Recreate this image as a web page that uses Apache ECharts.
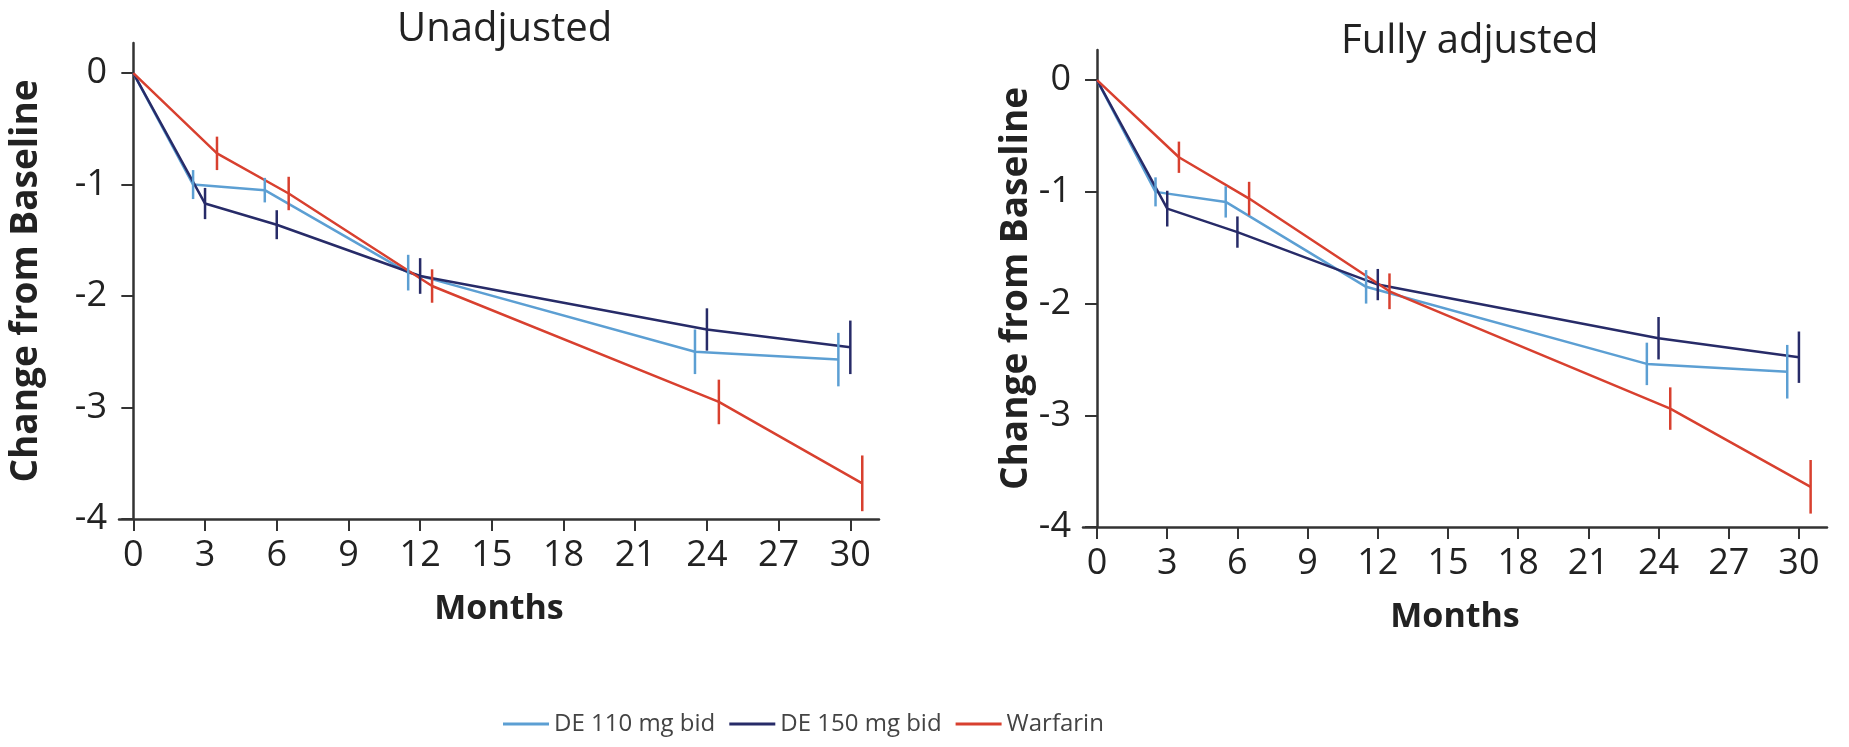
<!DOCTYPE html>
<html>
<head>
<meta charset="utf-8">
<script src="https://cdn.jsdelivr.net/npm/echarts@6/dist/echarts.min.js"></script>
<style>
  html, body { margin: 0; padding: 0; background: #fff; }
  #chart { width: 1849px; height: 747px; }
</style>
</head>
<body>
<div id="chart"></div>
<script>
// months are dodged a little per group, as in the original figure
const months110 = [0, 2.5, 5.5, 11.5, 23.5, 29.5]
const months150 = [0, 3, 6, 12, 24, 30]
const monthsWarf = [0, 3.5, 6.5, 12.5, 24.5, 30.5]
const monthTicks = [0, 3, 6, 9, 12, 15, 18, 21, 24, 27, 30]
const changeTicks = [-4, -3, -2, -1, 0]

// Unadjusted
const unadj110 = [0, -1.0, -1.05, -1.79, -2.50, -2.57]
const unadj110Err = [0, 0.13, 0.11, 0.16, 0.20, 0.24]
const unadj150 = [0, -1.17, -1.36, -1.82, -2.30, -2.46]
const unadj150Err = [0, 0.14, 0.13, 0.16, 0.19, 0.24]
const unadjWarf = [0, -0.72, -1.08, -1.91, -2.95, -3.68]
const unadjWarfErr = [0, 0.15, 0.15, 0.15, 0.20, 0.25]

// Fully adjusted
const adj110 = [0, -1.0, -1.09, -1.85, -2.54, -2.61]
const adj110Err = [0, 0.13, 0.14, 0.15, 0.19, 0.24]
const adj150 = [0, -1.15, -1.36, -1.83, -2.31, -2.48]
const adj150Err = [0, 0.16, 0.14, 0.14, 0.19, 0.23]
const adjWarf = [0, -0.69, -1.06, -1.89, -2.94, -3.64]
const adjWarfErr = [0, 0.14, 0.15, 0.16, 0.19, 0.24]

const names = ['DE 110 mg bid', 'DE 150 mg bid', 'Warfarin']
const colors = ['#5c9fd3', '#272b68', '#d8402f']

const FONT = 'Open Sans'
const NARROW = "'Liberation Sans Narrow', 'Open Sans'"
const axisColor = '#333'

function pairs(xs, ys) {
  return xs.map((x, i) => [x, ys[i]])
}

function bars(xs, ys, errs) {
  return xs
    .map((x, i) => [x, ys[i] - errs[i], ys[i] + errs[i]])
    .filter((d, i) => errs[i] > 0)
}

function renderBar(params, api) {
  const hi = api.coord([api.value(0), api.value(2)])
  const lo = api.coord([api.value(0), api.value(1)])
  return {
    type: 'line',
    shape: { x1: hi[0], y1: hi[1], x2: lo[0], y2: lo[1] },
    style: { stroke: api.visual('color'), lineWidth: 2.5 }
  }
}

function makeXAxis(gridIndex) {
  return {
    gridIndex,
    type: 'value',
    min: -0.6,
    max: 31.2,
    name: 'Months',
    nameLocation: 'middle',
    nameGap: 73,
    nameTextStyle: { fontFamily: FONT, fontSize: 34, fontWeight: 'bold', color: '#222' },
    axisLine: { onZero: false, lineStyle: { color: axisColor, width: 2.5 } },
    axisTick: { customValues: monthTicks, length: 12, lineStyle: { color: axisColor, width: 2 } },
    axisLabel: { customValues: monthTicks, margin: 19, fontFamily: NARROW, fontSize: 36, color: '#222' },
    splitLine: { show: false }
  }
}

function makeYAxis(gridIndex, gap) {
  return {
    gridIndex,
    type: 'value',
    min: -4,
    max: 0.27,
    name: 'Change from Baseline',
    nameLocation: 'middle',
    nameGap: gap,
    nameTextStyle: { fontFamily: FONT, fontSize: 37, fontWeight: 'bold', color: '#222' },
    axisLine: { show: true, onZero: true, lineStyle: { color: axisColor, width: 2.5 } },
    axisTick: { show: true, customValues: changeTicks, length: 12, lineStyle: { color: axisColor, width: 2 } },
    axisLabel: { customValues: changeTicks, margin: 12, fontFamily: NARROW, fontSize: 36, color: '#222' },
    splitLine: { show: false }
  }
}

const panels = [
  { x: [months110, months150, monthsWarf], y: [unadj110, unadj150, unadjWarf], e: [unadj110Err, unadj150Err, unadjWarfErr] },
  { x: [months110, months150, monthsWarf], y: [adj110, adj150, adjWarf], e: [adj110Err, adj150Err, adjWarfErr] }
]

const series = []
panels.forEach((p, g) => {
  names.forEach((name, k) => {
    series.push({
      name,
      type: 'line',
      xAxisIndex: g,
      yAxisIndex: g,
      data: pairs(p.x[k], p.y[k]),
      symbol: 'none',
      color: colors[k],
      lineStyle: { width: 2.5, color: colors[k] },
      z: 3
    })
  })
})
panels.forEach((p, g) => {
  names.forEach((name, k) => {
    series.push({
      name,
      type: 'custom',
      xAxisIndex: g,
      yAxisIndex: g,
      data: bars(p.x[k], p.y[k], p.e[k]),
      encode: { x: 0, y: [1, 2] },
      renderItem: renderBar,
      color: colors[k],
      z: 4
    })
  })
})

const chart = echarts.init(document.getElementById('chart'))
chart.setOption({
  backgroundColor: '#fff',
  animation: false,
  title: [
    { text: 'Unadjusted', left: 392, top: 5, textStyle: { fontFamily: FONT, fontSize: 40, fontWeight: 'normal', color: '#222' } },
    { text: 'Fully adjusted', left: 1336, top: 17, textStyle: { fontFamily: FONT, fontSize: 40, fontWeight: 'normal', color: '#222' } }
  ],
  legend: {
    data: names.map((n) => ({ name: n, icon: 'rect' })),
    left: 498,
    top: 707,
    itemWidth: 46,
    itemHeight: 3,
    itemGap: 14,
    textStyle: { fontFamily: FONT, fontSize: 24, color: '#444' }
  },
  grid: [
    { left: 119, top: 43, width: 760, height: 476 },
    { left: 1083, top: 50, width: 744, height: 477 }
  ],
  xAxis: [makeXAxis(0), makeXAxis(1)],
  yAxis: [makeYAxis(0, 74), makeYAxis(1, 46)],
  series
})
</script>
</body>
</html>
